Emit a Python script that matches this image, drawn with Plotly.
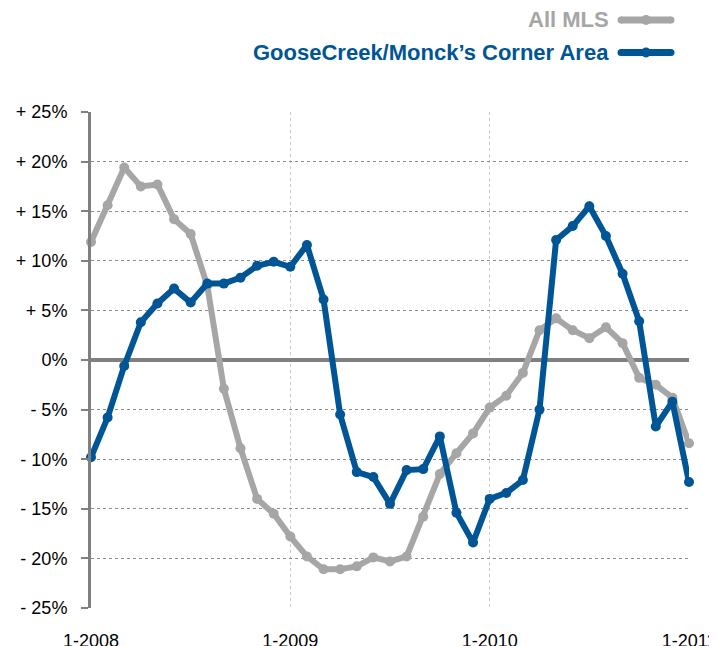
import plotly.graph_objects as go

# Month index 0..36 = Jan 2008 .. Jan 2011
months = list(range(37))
x_tick_vals = [0, 12, 24, 36]
x_tick_text = ["1-2008", "1-2009", "1-2010", "1-2011"]

all_mls = [11.9, 15.6, 19.4, 17.5, 17.7, 14.2, 12.7, 7.5, -2.9, -8.9,
           -14.0, -15.5, -17.8, -19.8, -21.1, -21.1, -20.8, -19.9, -20.3, -19.8,
           -15.8, -11.5, -9.4, -7.4, -4.8, -3.6, -1.3, 3.0, 4.2, 3.0,
           2.2, 3.3, 1.7, -1.8, -2.5, -3.8, -8.4]

goose_creek = [-9.8, -5.8, -0.6, 3.8, 5.7, 7.2, 5.8, 7.7, 7.7, 8.3,
               9.5, 9.9, 9.4, 11.6, 6.1, -5.5, -11.3, -11.8, -14.5, -11.1,
               -11.0, -7.7, -15.4, -18.4, -14.0, -13.4, -12.1, -5.0, 12.1, 13.5,
               15.5, 12.5, 8.7, 3.9, -6.7, -4.2, -12.3]

y_tick_vals = [25, 20, 15, 10, 5, 0, -5, -10, -15, -20, -25]
y_tick_text = ["+ 25%", "+ 20%", "+ 15%", "+ 10%", "+ 5%", "0%",
               "- 5%", "- 10%", "- 15%", "- 20%", "- 25%"]

series_names = ["All MLS", "GooseCreek/Monck\u2019s Corner Area"]
series_colors = ["#A6A6A6", "#005596"]

fig = go.Figure()
for name, vals, col in zip(series_names, [all_mls, goose_creek], series_colors):
    fig.add_trace(go.Scatter(
        x=months, y=vals, mode="lines+markers", name=name,
        line=dict(color=col, width=6),
        marker=dict(color=col, size=10),
        cliponaxis=False, showlegend=False,
    ))

# page body has an 8px margin: figure origin sits at (8, 8) in the window
OFF = 8
W, H = 717 - OFF, 646 - OFF
ml, mr, mt, mb = 91 - OFF, 28, 112 - OFF, 38
PW, PH = W - ml - mr, H - mt - mb

def px_x(xw):
    return (xw - OFF - ml) / PW

def px_y(yw):
    return 1 + (mt - (yw - OFF)) / PH

# Custom legend (text left, symbol right)
legend_rows = [(20, 0), (52.5, 1)]
for ypix, idx in legend_rows:
    yp = px_y(ypix)
    fig.add_annotation(
        xref="paper", yref="paper", x=px_x(611), y=yp,
        xanchor="right", yanchor="middle", showarrow=False,
        text="<b>" + series_names[idx] + "</b>",
        font=dict(family="Liberation Sans, Arial, sans-serif", size=22,
                  color=series_colors[idx]),
    )
    fig.add_shape(type="line", xref="paper", yref="paper",
                  x0=px_x(621), x1=px_x(671), y0=yp, y1=yp,
                  line=dict(color=series_colors[idx], width=7))
    for xe in (621, 671):
        fig.add_shape(type="circle", xref="paper", yref="paper",
                      x0=px_x(xe - 3.5), x1=px_x(xe + 3.5),
                      y0=yp - 3.5 / PH, y1=yp + 3.5 / PH,
                      fillcolor=series_colors[idx], line=dict(width=0))
    fig.add_shape(type="circle", xref="paper", yref="paper",
                  x0=px_x(646 - 5), x1=px_x(646 + 5),
                  y0=yp - 5 / PH, y1=yp + 5 / PH,
                  fillcolor=series_colors[idx], line=dict(width=0))

fig.update_layout(
    width=W, height=H,
    margin=dict(l=ml, r=mr, t=mt, b=mb, autoexpand=False),
    paper_bgcolor="white", plot_bgcolor="white",
    font=dict(family="Liberation Sans, Arial, sans-serif", size=18, color="#000000"),
    showlegend=False,
)
fig.update_xaxes(
    range=[0, 36], tickvals=x_tick_vals, ticktext=x_tick_text,
    showgrid=True, gridcolor="#C8C8C8", griddash="dot", gridwidth=1,
    zeroline=False, showline=False, ticks="", ticklabelstandoff=20,
    tickfont=dict(size=18),
)
fig.update_yaxes(
    range=[-25, 25], tickvals=y_tick_vals, ticktext=y_tick_text,
    showgrid=True, gridcolor="#8C8C8C", griddash="dot", gridwidth=1,
    zeroline=True, zerolinecolor="#808080", zerolinewidth=4,
    showline=True, linecolor="#808080", linewidth=3,
    ticks="outside", ticklen=7, tickcolor="#808080", tickwidth=2,
    ticklabelstandoff=10, tickfont=dict(size=18),
)

fig.write_html("out.html")
